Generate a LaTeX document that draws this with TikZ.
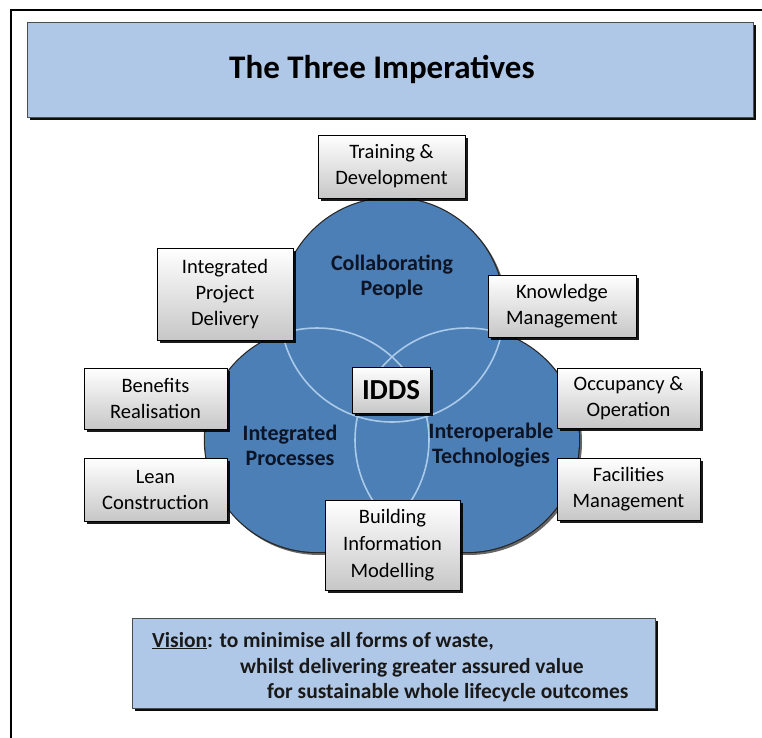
\documentclass[tikz,border=0pt]{standalone}
\usepackage{fontspec}
\setmainfont{Carlito}
\usetikzlibrary{shadows}
\definecolor{circblue}{RGB}{76,127,182}
\definecolor{lightblue}{RGB}{176,200,231}
\definecolor{arcblue}{RGB}{170,202,234}
\definecolor{labelnavy}{RGB}{12,20,38}
\tikzset{
  graybox/.style={draw=black, line width=1pt, top color=white, bottom color=black!22,
    drop shadow={shadow xshift=2.5pt, shadow yshift=-2.5pt, opacity=0.9, fill=black},
    align=center, inner sep=0pt, font=\fontsize{20.5}{26}\selectfont},
  bluebox/.style={draw=black!70, line width=0.8pt, fill=lightblue,
    drop shadow={shadow xshift=2.5pt, shadow yshift=-2.5pt, opacity=0.95, fill=black},
    inner sep=0pt},
  circlabel/.style={font=\fontsize{22}{25}\selectfont\bfseries, text=labelnavy, align=center},
  visiontext/.style={anchor=base west, font=\fontsize{21.5}{24}\selectfont\bfseries, text=black!90, inner sep=0pt}
}
\begin{document}
\begin{tikzpicture}[x=1pt,y=-1pt]
\useasboundingbox (0,0) rectangle (762,737);
% frame
\draw[line width=2pt] (11,745) -- (11,10) -- (770,10);

% title
\node[bluebox, minimum width=726pt, minimum height=95pt] (title) at (390,69.5) {};
\node[font=\fontsize{33}{38}\selectfont\bfseries] (titletext) at (382,69) {The Three Imperatives};

% circles
\coordinate (ct) at (392,310);
\coordinate (cl) at (317,440);
\coordinate (cr) at (467,440);
\fill[black!60] ([shift={(2,2)}]ct) circle[radius=113pt] ([shift={(2,2)}]cl) circle[radius=113pt] ([shift={(2,2)}]cr) circle[radius=113pt];
\draw[line width=2.4pt, black!85] (ct) circle[radius=112pt] (cl) circle[radius=112pt] (cr) circle[radius=112pt];
\fill[circblue] (ct) circle[radius=112pt] (cl) circle[radius=112pt] (cr) circle[radius=112pt];
\begin{scope}
  \clip (cl) circle[radius=111pt] (cr) circle[radius=111pt];
  \draw[arcblue, line width=1.6pt] (ct) circle[radius=112pt];
\end{scope}
\begin{scope}
  \clip (ct) circle[radius=111pt] (cr) circle[radius=111pt];
  \draw[arcblue, line width=1.6pt] (cl) circle[radius=112pt];
\end{scope}
\begin{scope}
  \clip (ct) circle[radius=111pt] (cl) circle[radius=111pt];
  \draw[arcblue, line width=1.6pt] (cr) circle[radius=112pt];
\end{scope}

% circle labels
\node[circlabel] (cp) at (392,277) {Collaborating\\People};
\node[circlabel] (ip) at (290,445) {Integrated\\Processes};
\node[circlabel] (it) at (491,445) {Interoperable\\Technologies};

% boxes
\node[graybox, minimum width=147pt, minimum height=63pt] (train) at (391.5,166.5) {Training \&\\Development};
\node[graybox, minimum width=136pt, minimum height=92pt] (ipd) at (225,294) {Integrated\\Project\\Delivery};
\node[graybox, minimum width=148pt, minimum height=62pt] (km) at (562,306) {Knowledge\\Management};
\node[graybox, minimum width=143pt, minimum height=61pt] (ben) at (155.5,398.5) {Benefits\\Realisation};
\node[graybox, minimum width=143pt, minimum height=63pt] (lean) at (155.5,489.5) {Lean\\Construction};
\node[graybox, minimum width=78pt, minimum height=46pt, font=\fontsize{29}{32}\selectfont\bfseries] (idds) at (391,390) {IDDS};
\node[graybox, minimum width=143pt, minimum height=60pt] (occ) at (628.5,398) {Occupancy \&\\Operation};
\node[graybox, minimum width=143pt, minimum height=62pt] (fac) at (628.5,489) {Facilities\\Management};
\node[graybox, minimum width=135pt, minimum height=90pt, font=\fontsize{20.5}{27}\selectfont] (bim) at (392.5,545) {Building\\Information\\Modelling};

% vision
\node[bluebox, minimum width=523pt, minimum height=90pt] (vision) at (393.5,663) {};
\node[visiontext] (v1) at (152,647) {\underline{Vision}: to minimise all forms of waste,};
\node[visiontext] (v2) at (240,673) {whilst delivering greater assured value};
\node[visiontext] (v3) at (267,698) {for sustainable whole lifecycle outcomes};
\end{tikzpicture}
\end{document}
